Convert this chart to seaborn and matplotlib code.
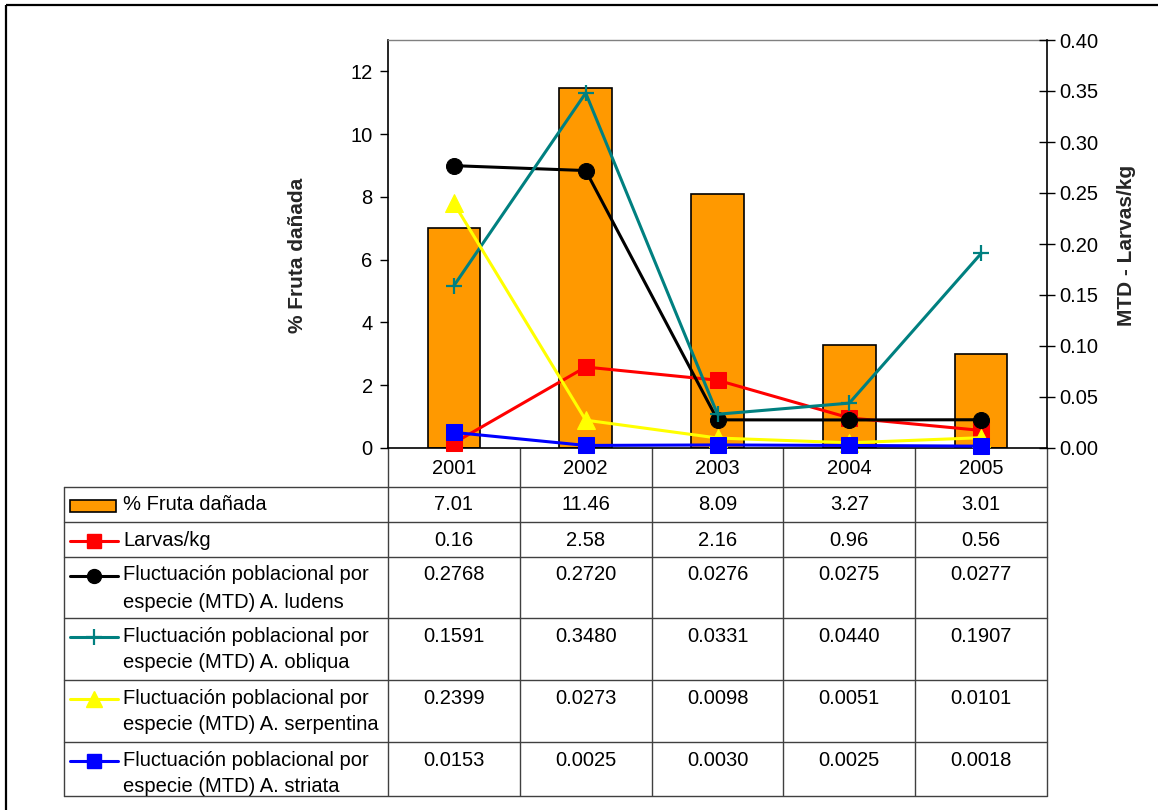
import numpy as np
import pandas as pd
import matplotlib
matplotlib.use("Agg")
import matplotlib.pyplot as plt
import matplotlib.transforms as mtransforms
from matplotlib.patches import Rectangle
from matplotlib.lines import Line2D
import seaborn as sns

# ---- data -------------------------------------------------------------
years = ["2001", "2002", "2003", "2004", "2005"]
fruta_danada = [7.01, 11.46, 8.09, 3.27, 3.01]
larvas_kg = [0.16, 2.58, 2.16, 0.96, 0.56]
mtd_ludens = [0.2768, 0.2720, 0.0276, 0.0275, 0.0277]
mtd_obliqua = [0.1591, 0.3480, 0.0331, 0.0440, 0.1907]
mtd_serpentina = [0.2399, 0.0273, 0.0098, 0.0051, 0.0101]
mtd_striata = [0.0153, 0.0025, 0.0030, 0.0025, 0.0018]

left_ticks = [0, 2, 4, 6, 8, 10, 12]
right_ticks = [0.0, 0.05, 0.10, 0.15, 0.20, 0.25, 0.30, 0.35, 0.40]

# ---- style ------------------------------------------------------------
sns.set_theme(style="white")
plt.rcParams["font.family"] = ["Liberation Sans", "DejaVu Sans"]
FS = 14.5
GRID = "#404040"

W, H = 1158, 810
fig = plt.figure(figsize=(W / 100, H / 100), dpi=100)

# pixel-space layer for the frame and the data table
tab = fig.add_axes([0, 0, 1, 1])
tab.set_xlim(0, W)
tab.set_ylim(H, 0)
tab.axis("off")

# plot area
px_l, px_r, px_t, px_b = 388, 1047, 40, 448
ax = fig.add_axes([px_l / W, 1 - px_b / H, (px_r - px_l) / W, (px_b - px_t) / H])
ax.set_facecolor("white")

pos = np.arange(len(years))
df = pd.DataFrame({"pos": pos, "fruta": fruta_danada})

sns.barplot(data=df, x="pos", y="fruta", native_scale=True, width=0.4,
            color="#FF9900", saturation=1, edgecolor="black", linewidth=1.2,
            ax=ax, zorder=2)

ax.set_xlim(-0.5, len(years) - 0.5)
ax.set_ylim(0, 13)
ax.set_yticks(left_ticks)
ax.set_yticklabels([str(t) for t in left_ticks], fontsize=FS)
ax.set_xticks([])
ax.set_xlabel("")
ax.tick_params(axis="y", direction="out", length=6, width=1, pad=5,
               left=True, colors="black")

# series on the primary axis
series_style = dict(linewidth=2.2, clip_on=False)
sns.lineplot(x=pos, y=larvas_kg, ax=ax, color="#FF0000", marker="s",
             markersize=11, markeredgecolor="#FF0000", zorder=3, **series_style)

ax.set_ylabel("% Fruta dañada", fontsize=15, fontweight="bold")
ax.yaxis.label.set_rotation_mode("default")
ax.yaxis.label.set_va("center")
ax.yaxis.set_label_coords(-0.1366, 0.473)

for side in ["left", "bottom"]:
    ax.spines[side].set_color("black")
    ax.spines[side].set_linewidth(1.2)
ax.spines["top"].set_color("#808080")
ax.spines["top"].set_linewidth(1)
ax.spines["right"].set_visible(False)

# secondary axis: MTD series
ax2 = ax.twinx()
sns.lineplot(x=pos, y=mtd_ludens, ax=ax2, color="black", marker="o",
             markersize=11.5, markeredgecolor="black", **series_style)
sns.lineplot(x=pos, y=mtd_obliqua, ax=ax2, color="#008080", marker="+",
             markersize=12, markeredgewidth=1.6, markeredgecolor="#008080",
             **series_style)
sns.lineplot(x=pos, y=mtd_serpentina, ax=ax2, color="#FFFF00", marker="^",
             markersize=12.5, markeredgecolor="#FFFF00", **series_style)
sns.lineplot(x=pos, y=mtd_striata, ax=ax2, color="#0000FF", marker="s",
             markersize=11, markeredgecolor="#0000FF", **series_style)

ax2.set_ylim(0, 0.40)
ax2.set_yticks(right_ticks)
ax2.set_yticklabels([f"{t:.2f}" for t in right_ticks], fontsize=FS)
ax2.tick_params(axis="y", direction="inout", length=11, width=1, pad=3,
                right=True, colors="black")
ax2.set_xlim(-0.5, len(years) - 0.5)
ax2.set_xticks([])
ax2.set_ylabel("MTD - Larvas/kg", fontsize=15, fontweight="bold")
ax2.yaxis.label.set_rotation_mode("default")
ax2.yaxis.label.set_va("center")
ax2.yaxis.set_label_coords(1.12, 0.4975)
for side in ["left", "top", "bottom"]:
    ax2.spines[side].set_visible(False)
ax2.spines["right"].set_color("black")
ax2.spines["right"].set_linewidth(1.2)

# ---- outer frame ------------------------------------------------------
tab.plot([6, 6], [5, H], color="black", lw=1.6, solid_capstyle="butt")
tab.plot([6, W], [5, 5], color="black", lw=1.6, solid_capstyle="butt")

# ---- data table -------------------------------------------------------
mix = mtransforms.blended_transform_factory(ax.transData, tab.transData)
row_edges = [487, 522, 557, 618, 680, 742, 796]
key_left = 64
table_bottom = row_edges[-1]

for i in range(len(years) + 1):
    tab.plot([i - 0.5, i - 0.5], [px_b, table_bottom], color=GRID, lw=1,
             transform=mix, solid_capstyle="butt")
tab.plot([key_left, key_left], [row_edges[0], table_bottom], color=GRID, lw=1)
for y in row_edges:
    tab.plot([key_left, px_r], [y, y], color=GRID, lw=1)

for i, yr in enumerate(years):
    tab.text(i, (px_b + row_edges[0]) / 2 + 1, yr, transform=mix,
             ha="center", va="center", fontsize=FS, color="black")

rows = [
    (["% Fruta dañada"], [f"{v:.2f}" for v in fruta_danada],
     dict(kind="bar", color="#FF9900")),
    (["Larvas/kg"], [f"{v:.2f}" for v in larvas_kg],
     dict(kind="line", color="#FF0000", marker="s", ms=10, mew=1)),
    (["Fluctuación poblacional por", "especie (MTD) A. ludens"],
     [f"{v:.4f}" for v in mtd_ludens],
     dict(kind="line", color="black", marker="o", ms=10, mew=1)),
    (["Fluctuación poblacional por", "especie (MTD) A. obliqua"],
     [f"{v:.4f}" for v in mtd_obliqua],
     dict(kind="line", color="#008080", marker="+", ms=12, mew=1.6)),
    (["Fluctuación poblacional por", "especie (MTD) A. serpentina"],
     [f"{v:.4f}" for v in mtd_serpentina],
     dict(kind="line", color="#FFFF00", marker="^", ms=11.5, mew=1)),
    (["Fluctuación poblacional por", "especie (MTD) A. striata"],
     [f"{v:.4f}" for v in mtd_striata],
     dict(kind="line", color="#0000FF", marker="s", ms=10, mew=1)),
]

for r, (label_lines, values, key) in enumerate(rows):
    top = row_edges[r]
    y0 = top + 18
    for k, line in enumerate(label_lines):
        tab.text(123, y0 + 27 * k, line, ha="left", va="center",
                 fontsize=FS, color="black")
    for i, val in enumerate(values):
        tab.text(i, y0, val, transform=mix, ha="center", va="center",
                 fontsize=FS, color="black")
    if key["kind"] == "bar":
        tab.add_patch(Rectangle((70, y0 - 5), 46, 12, facecolor=key["color"],
                                edgecolor="black", lw=1.2))
    else:
        tab.add_line(Line2D([70, 118], [y0 + 1, y0 + 1], color=key["color"],
                            lw=2.2))
        tab.add_line(Line2D([94], [y0 + 1], color=key["color"],
                            marker=key["marker"], ms=key["ms"],
                            mew=key["mew"], mec=key["color"],
                            mfc=key["color"], linestyle="none"))

fig.savefig("out.png", dpi=100, facecolor="white")
